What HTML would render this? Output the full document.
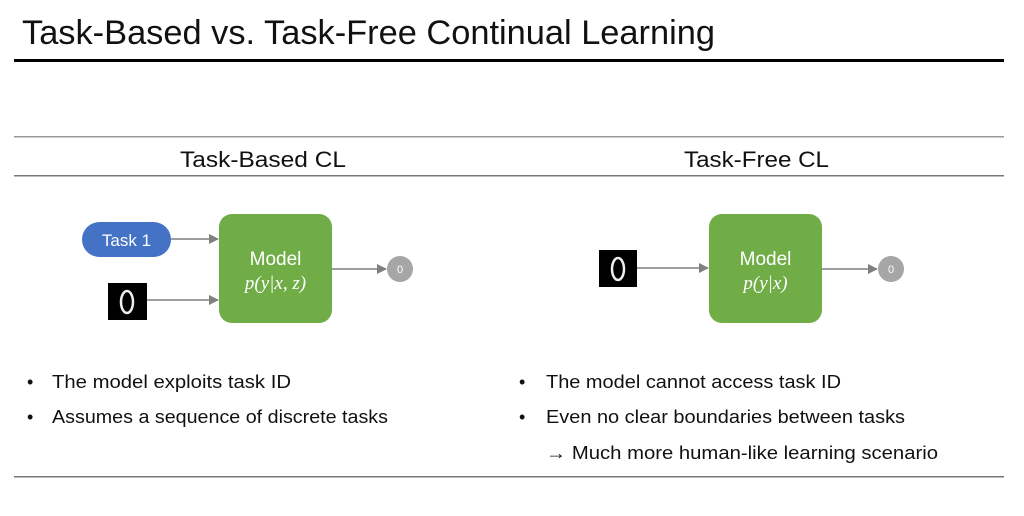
<!DOCTYPE html>
<html><head><meta charset="utf-8"><style>html,body{margin:0;padding:0;background:#fff}svg{display:block}text{font-family:"Liberation Sans",sans-serif}text.m{font-family:"Liberation Serif",serif;font-style:italic}</style></head>
<body>
<svg width="1024" height="516" viewBox="0 0 1024 516" xmlns="http://www.w3.org/2000/svg">
<defs><marker id="a" markerWidth="10" markerHeight="10" refX="9" refY="5" orient="auto" markerUnits="userSpaceOnUse"><path d="M0,0 L10,5 L0,10 z" fill="#7f7f7f"/></marker></defs>
<text x="22" y="44" font-size="34" fill="#111" textLength="693" lengthAdjust="spacingAndGlyphs">Task-Based vs. Task-Free Continual Learning</text>
<rect x="14" y="59" width="990" height="3" fill="#000"/>
<rect x="14" y="136" width="990" height="1.5" fill="#999"/>
<rect x="14" y="175" width="990" height="1.5" fill="#777"/>
<rect x="14" y="476" width="990" height="1.5" fill="#777"/>
<text x="180" y="167" font-size="22" fill="#111" textLength="166" lengthAdjust="spacingAndGlyphs">Task-Based CL</text>
<text x="684" y="167" font-size="22" fill="#111" textLength="145" lengthAdjust="spacingAndGlyphs">Task-Free CL</text>
<!-- left diagram -->
<rect x="82" y="222" width="89" height="35" rx="17.5" fill="#4472C4"/>
<text x="126.5" y="246" font-size="17" fill="#fff" text-anchor="middle">Task 1</text>
<line x1="171" y1="239" x2="218" y2="239" stroke="#7f7f7f" stroke-width="1.5" marker-end="url(#a)"/>
<rect x="108" y="283" width="39" height="37" fill="#000"/>
<ellipse cx="127" cy="302" rx="6" ry="11" fill="none" stroke="#eee" stroke-width="2.5"/>
<line x1="147" y1="300" x2="218" y2="300" stroke="#7f7f7f" stroke-width="1.5" marker-end="url(#a)"/>
<rect x="219" y="214" width="113" height="109" rx="13" fill="#70AD47"/>
<text x="275.5" y="265" font-size="19" fill="#fff" text-anchor="middle">Model</text>
<text class="m" x="275.5" y="289" font-size="19" fill="#fff" text-anchor="middle">p(y|x, z)</text>
<line x1="332" y1="269" x2="386" y2="269" stroke="#7f7f7f" stroke-width="1.5" marker-end="url(#a)"/>
<circle cx="400" cy="269" r="13" fill="#A6A6A6"/>
<text x="400" y="273" font-size="11" fill="#fff" text-anchor="middle">0</text>
<!-- right diagram -->
<rect x="599" y="250" width="38" height="37" fill="#000"/>
<ellipse cx="618" cy="269" rx="6" ry="11" fill="none" stroke="#eee" stroke-width="2.5"/>
<line x1="637" y1="268" x2="708" y2="268" stroke="#7f7f7f" stroke-width="1.5" marker-end="url(#a)"/>
<rect x="709" y="214" width="113" height="109" rx="13" fill="#70AD47"/>
<text x="765.5" y="265" font-size="19" fill="#fff" text-anchor="middle">Model</text>
<text class="m" x="765.5" y="289" font-size="19" fill="#fff" text-anchor="middle">p(y|x)</text>
<line x1="822" y1="269" x2="877" y2="269" stroke="#7f7f7f" stroke-width="1.5" marker-end="url(#a)"/>
<circle cx="891" cy="269" r="13" fill="#A6A6A6"/>
<text x="891" y="273" font-size="11" fill="#fff" text-anchor="middle">0</text>
<!-- bullets -->
<g font-size="18" fill="#111">
<text x="27" y="388">•</text>
<text x="52" y="388" textLength="239" lengthAdjust="spacingAndGlyphs">The model exploits task ID</text>
<text x="27" y="423">•</text>
<text x="52" y="423" textLength="336" lengthAdjust="spacingAndGlyphs">Assumes a sequence of discrete tasks</text>
<text x="519" y="388">•</text>
<text x="546" y="388" textLength="295" lengthAdjust="spacingAndGlyphs">The model cannot access task ID</text>
<text x="519" y="423">•</text>
<text x="546" y="423" textLength="359" lengthAdjust="spacingAndGlyphs">Even no clear boundaries between tasks</text>
<text x="546" y="459" textLength="392" lengthAdjust="spacingAndGlyphs">→ Much more human-like learning scenario</text>
</g>
</svg>
</body></html>
